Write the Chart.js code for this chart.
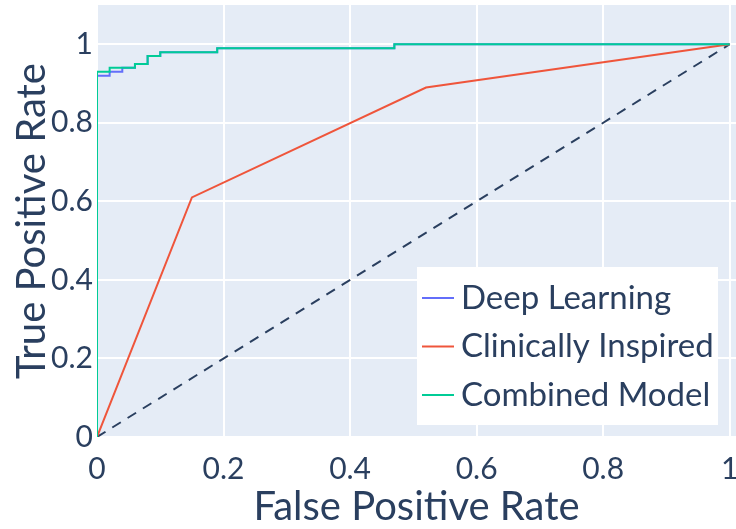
<!DOCTYPE html>
<html>
<head>
<meta charset="utf-8">
<script src="https://cdn.jsdelivr.net/npm/chart.js@4"></script>
<style>
  html, body { margin: 0; padding: 0; background: #fff; }
  #wrap { width: 736px; height: 529px; position: relative; }
</style>
</head>
<body>
<div id="wrap"><canvas id="roc" width="736" height="529"></canvas></div>
<script>
// ROC curves
const fprDeep = [0, 0, 0.02, 0.02, 0.04, 0.04, 0.06, 0.06, 0.08, 0.08, 0.1, 0.1, 0.19, 0.19, 0.47, 0.47, 1];
const tprDeep = [0, 0.92, 0.92, 0.93, 0.93, 0.94, 0.94, 0.95, 0.95, 0.97, 0.97, 0.98, 0.98, 0.99, 0.99, 1, 1];

const fprClinical = [0, 0.15, 0.52, 1];
const tprClinical = [0, 0.61, 0.89, 1];

const fprCombined = [0, 0, 0.02, 0.02, 0.06, 0.06, 0.08, 0.08, 0.1, 0.1, 0.19, 0.19, 0.47, 0.47, 1];
const tprCombined = [0, 0.93, 0.93, 0.94, 0.94, 0.95, 0.95, 0.97, 0.97, 0.98, 0.98, 0.99, 0.99, 1, 1];

const fprChance = [0, 1];
const tprChance = [0, 1];

const tickVals = [0, 0.2, 0.4, 0.6, 0.8, 1];
const seriesNames = ['Deep Learning', 'Clinically Inspired', 'Combined Model'];

const toPts = (xs, ys) => xs.map((x, i) => ({ x: x, y: ys[i] }));

const FONT = 'Lato, "DejaVu Sans", sans-serif';
const INK = '#2a3f5f';

// fixed axis sizes, no extra room for edge labels
const fixScale = size => s => {
  if (s.isHorizontal()) s.height = size; else s.width = size;
  s.paddingTop = s.paddingBottom = s.paddingLeft = s.paddingRight = 0;
};

// plotly-ish background + legend inside plot
const plotBg = {
  id: 'plotBg',
  beforeDraw(chart) {
    const a = chart.chartArea, c = chart.ctx;
    c.save();
    c.fillStyle = '#E5ECF6';
    c.fillRect(a.left, a.top, a.right - a.left, a.bottom - a.top);
    c.restore();
  },
  afterDraw(chart) {
    const c = chart.ctx;
    const bx = 417, by = 267, bw = 301, bh = 158;
    c.save();
    c.fillStyle = '#fff';
    c.fillRect(bx, by, bw, bh);
    c.font = '33px ' + FONT;
    c.textBaseline = 'middle';
    chart.data.datasets.forEach((ds, i) => {
      if (!ds.inLegend) return;
      const y = by + 31 + i * 48.5;
      c.strokeStyle = ds.borderColor;
      c.lineWidth = 2;
      c.beginPath();
      c.moveTo(bx + 5, y);
      c.lineTo(bx + 37, y);
      c.stroke();
      c.fillStyle = INK;
      c.fillText(ds.label, bx + 44, y);
    });
    c.restore();
  }
};

new Chart(document.getElementById('roc'), {
  type: 'scatter',
  data: {
    datasets: [
      { label: seriesNames[0], data: toPts(fprDeep, tprDeep), borderColor: '#636EFA', inLegend: true, order: 3 },
      { label: seriesNames[1], data: toPts(fprClinical, tprClinical), borderColor: '#EF553B', inLegend: true, order: 2 },
      { label: seriesNames[2], data: toPts(fprCombined, tprCombined), borderColor: '#00CC96', inLegend: true, order: 1 },
      { label: 'chance', data: toPts(fprChance, tprChance), borderColor: INK, borderDash: [10, 8], inLegend: false, order: 4 }
    ].map(d => Object.assign({ showLine: true, pointRadius: 0, borderWidth: 2, tension: 0, fill: false }, d))
  },
  options: {
    responsive: false,
    animation: false,
    devicePixelRatio: 1,
    layout: { autoPadding: false, padding: { top: 5, right: 0, left: 0, bottom: 0 } },
    plugins: { legend: { display: false }, tooltip: { enabled: false } },
    scales: {
      x: {
        type: 'linear', min: 0, max: 1.01,
        afterBuildTicks: s => { s.ticks = tickVals.map(v => ({ value: v })); },
        afterFit: fixScale(92),
        grid: { color: '#fff', lineWidth: 2, drawTicks: false },
        border: { display: false },
        ticks: { color: INK, font: { family: FONT, size: 30 }, padding: 14, maxRotation: 0 , callback: v => String(v) },
        title: { display: true, text: 'False Positive Rate', color: INK, font: { family: FONT, size: 40 }, padding: { top: 0, bottom: -2 } }
      },
      y: {
        type: 'linear', min: 0, max: 1.1,
        afterBuildTicks: s => { s.ticks = tickVals.map(v => ({ value: v })); },
        afterFit: fixScale(97),
        grid: { color: '#fff', lineWidth: 2, drawTicks: false },
        border: { display: false },
        ticks: { color: INK, font: { family: FONT, size: 30 }, padding: 4, callback: v => String(v) },
        title: { display: true, text: 'True Positive Rate', color: INK, font: { family: FONT, size: 40 }, padding: { top: 8, bottom: 0 } }
      }
    }
  },
  plugins: [plotBg]
});
</script>
</body>
</html>
